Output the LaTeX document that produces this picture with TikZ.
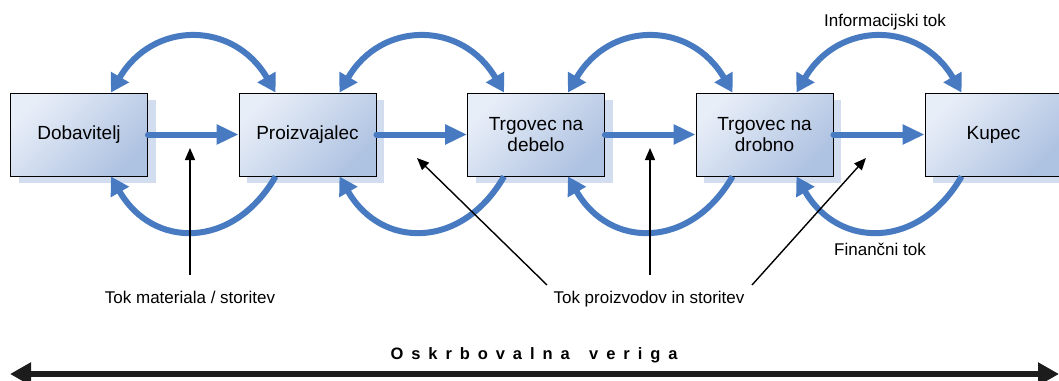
\documentclass[tikz,border=0pt]{standalone}
\usepackage{fontspec}
\setmainfont{Liberation Sans}
\newfontfamily\spacedfont[LetterSpace=48]{Liberation Sans}
\usetikzlibrary{arrows.meta,shadows,calc}
\definecolor{flowblue}{RGB}{71,122,192}
\definecolor{boxlight}{RGB}{232,238,248}
\definecolor{boxdark}{RGB}{174,194,225}
\definecolor{shadowblue}{RGB}{210,222,240}
\definecolor{chainblack}{RGB}{28,28,28}
\begin{document}
\begin{tikzpicture}[x=1pt,y=1pt,
  box/.style={draw=black, line width=0.9pt, minimum width=137pt, minimum height=83pt,
    inner sep=0pt, align=center, font=\fontsize{19}{21}\selectfont,
    left color=boxlight, right color=boxdark, shading angle=45,
    drop shadow={shadow xshift=8pt, shadow yshift=-7pt, fill=shadowblue, opacity=1}},
  flowarc/.style={draw=flowblue, line width=6pt},
  flowstraight/.style={draw=flowblue, line width=6pt, line cap=round, -{Triangle[length=22pt,width=19pt]}},
  ann/.style={draw=black, line width=1.4pt, -{Triangle[length=12pt,width=10pt]}},
  lbl/.style={font=\fontsize{17}{20}\selectfont, inner sep=0pt, anchor=base},
  chainarrow/.style={draw=chainblack, line width=6pt, {Triangle[length=21pt,width=22pt]}-{Triangle[length=21pt,width=22pt]}}
]
\useasboundingbox (0,0) rectangle (1059,-380);
\begin{scope}
\clip (0,0) rectangle (1059,-380);

% boxes
\node[box] (dob) at (79,-134.5) {Dobavitelj};
\node[box] (pro) at (307.5,-134.5) {Proizvajalec};
\node[box] (deb) at (536,-134.5) {Trgovec na\\debelo};
\node[box] (dro) at (764.5,-134.5) {Trgovec na\\drobno};
\node[box] (kup) at (993.5,-134.5) {Kupec};

% straight material flow
\draw[flowstraight] (dob.east) -- (pro.west);
\draw[flowstraight] (pro.east) -- (deb.west);
\draw[flowstraight] (deb.east) -- (dro.west);
\draw[flowstraight] (dro.east) -- (kup.west);

% information flow (top arcs) and financial flow (bottom arcs)
\foreach \a/\b in {dob/pro, pro/deb, deb/dro, dro/kup}{
  \draw[flowarc, {Triangle[length=18pt,width=20pt]}-{Triangle[length=18pt,width=20pt]}]
    ([xshift=-37pt]\a.north east) .. controls +(42,72) and +(-42,72) .. ([xshift=37pt]\b.north west);
  \draw[flowarc, -{Triangle[length=18pt,width=20pt]}]
    ([xshift=37pt]\b.south west) .. controls +(-42,-73) and +(42,-73) .. ([xshift=-37pt]\a.south east);
}

% labels
\node[lbl] (linf) at (885,-26) {Informacijski tok};
\node[lbl] (lfin) at (880,-255) {Finančni tok};
\node[lbl] (lmat) at (190,-303) {Tok materiala / storitev};
\node[lbl] (lpro) at (649,-303) {Tok proizvodov in storitev};

% annotation arrows
\coordinate (mats) at (190,-275);
\coordinate (matt) at (190,-148);
\coordinate (p1s) at (547,-285);
\coordinate (p1t) at (417,-158);
\coordinate (p2s) at (650,-275);
\coordinate (p2t) at (650,-148);
\coordinate (p3s) at (752,-285);
\coordinate (p3t) at (866,-158);
\draw[ann] (mats) -- (matt);
\draw[ann] (p1s) -- (p1t);
\draw[ann] (p2s) -- (p2t);
\draw[ann] (p3s) -- (p3t);

% supply chain
\node[inner sep=0pt, anchor=base, font=\fontsize{16.5}{19}\spacedfont\bfseries] (chain) at (534,-359) {Oskrbovalna\hspace{7pt} veriga};
\coordinate (chl) at (10,-374);
\coordinate (chr) at (1059,-374);
\draw[chainarrow] (chl) -- (chr);
\end{scope}
\end{tikzpicture}
\end{document}
